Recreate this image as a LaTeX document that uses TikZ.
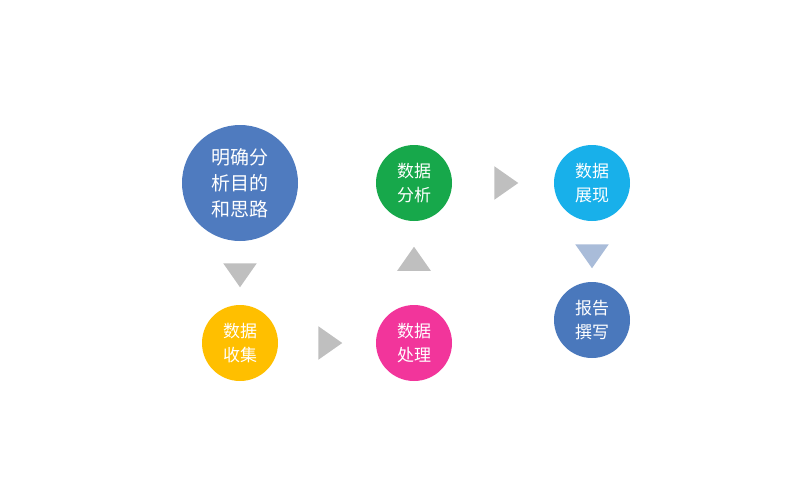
\documentclass[tikz,border=0pt]{standalone}
\usepackage{fontspec}
\newfontfamily\cjk{Noto Sans CJK SC}
\usetikzlibrary{shapes.geometric}
\definecolor{cA}{HTML}{4F7BBF}
\definecolor{cB}{HTML}{FFBF00}
\definecolor{cC}{HTML}{F2359B}
\definecolor{cD}{HTML}{17A84B}
\definecolor{cE}{HTML}{18B0EA}
\definecolor{cF}{HTML}{4A78BC}
\definecolor{tri}{HTML}{BFBFBF}
\definecolor{trib}{HTML}{A9BCD9}
\begin{document}
\begin{tikzpicture}[x=1pt,y=-1pt,
  circ/.style={circle,minimum size=76pt,inner sep=0pt,text=white,align=center,font=\cjk\fontsize{17}{24}\selectfont},
  arr/.style={isosceles triangle,isosceles triangle apex angle=70,minimum height=24pt,minimum width=1pt,inner sep=0pt,fill=tri}]
\useasboundingbox (0,0) rectangle (790,490);
\node[circ,fill=cA,minimum size=116pt,font=\cjk\fontsize{19}{26}\selectfont] (a) at (240,183) {明确分\\析目的\\和思路};
\node[circ,fill=cB] (b) at (240,343) {数据\\收集};
\node[circ,fill=cC] (c) at (414,343) {数据\\处理};
\node[circ,fill=cD] (d) at (414,183) {数据\\分析};
\node[circ,fill=cE] (e) at (592,183) {数据\\展现};
\node[circ,fill=cF] (f) at (592,320) {报告\\撰写};
\node[arr,shape border rotate=-90] (t1) at (240,272) {};
\node[arr,shape border rotate=0] (t2) at (327,343) {};
\node[arr,shape border rotate=90] (t3) at (414,262) {};
\node[arr,shape border rotate=0] (t4) at (503,183) {};
\node[arr,shape border rotate=-90,fill=trib] (t5) at (592,253) {};
\end{tikzpicture}
\end{document}
